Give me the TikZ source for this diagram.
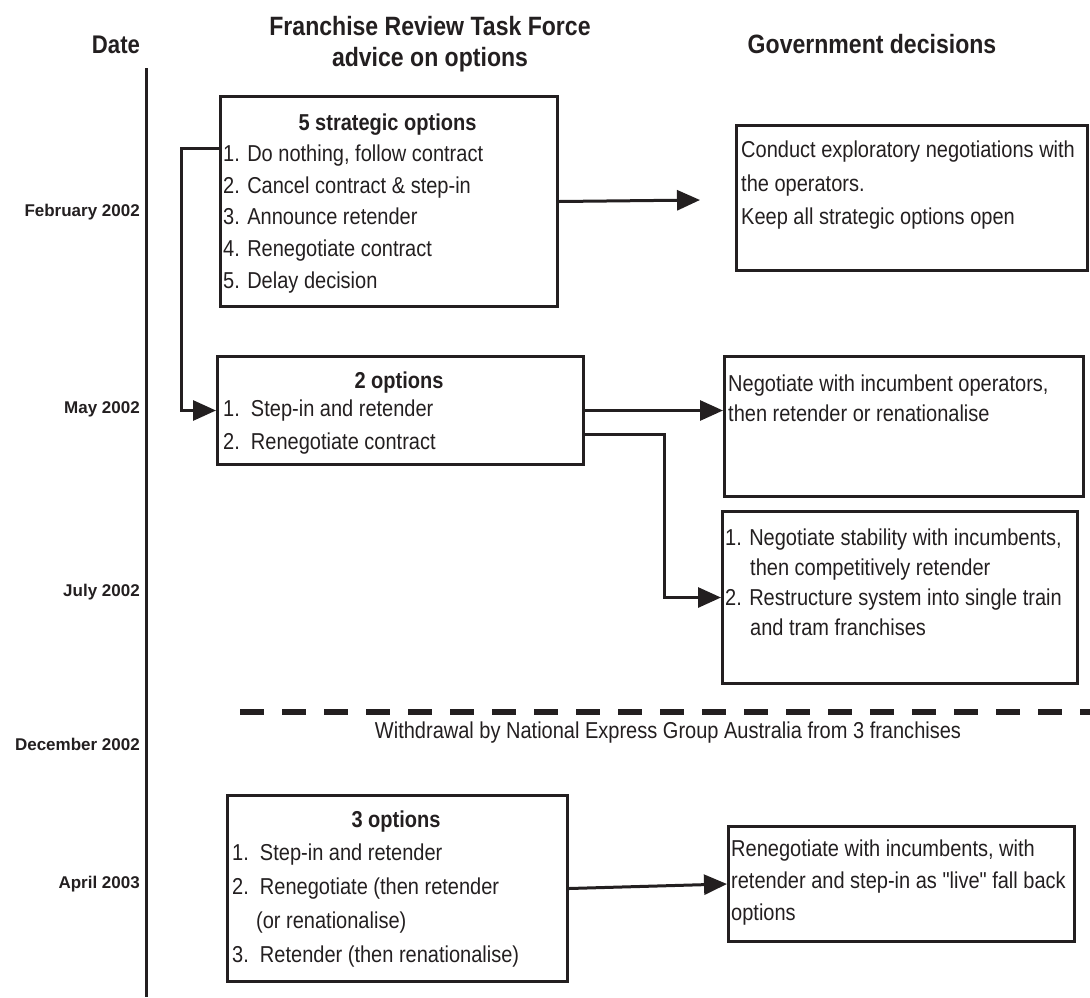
\documentclass[tikz,border=0pt]{standalone}
\usepackage{fontspec}
\setmainfont{Liberation Sans}[FakeStretch=0.87]
\newfontfamily\datefont{Liberation Sans}
\usetikzlibrary{arrows.meta,calc}
\definecolor{ink}{HTML}{231F20}
\tikzset{
  box/.style={draw=ink, line width=3pt, inner sep=0pt, anchor=north west},
  conn/.style={draw=ink, line width=3pt},
  arr/.style={conn, -{Triangle[length=23pt,width=20pt]}},
  dashline/.style={draw=ink, line width=5.5pt, dash pattern=on 24pt off 18pt},
  tx/.style={anchor=base west, inner sep=0pt, text=ink, font=\fontsize{23}{28}\selectfont},
  tt/.style={anchor=base, inner sep=0pt, text=ink, font=\fontsize{23}{28}\selectfont\bfseries},
  hd/.style={anchor=base, inner sep=0pt, text=ink, font=\fontsize{26.5}{32}\selectfont\bfseries},
  dt/.style={anchor=base east, inner sep=0pt, text=ink, font=\datefont\bfseries\fontsize{17}{20}\selectfont}
}
\begin{document}
\begin{tikzpicture}[x=1pt,y=-1pt]
\useasboundingbox (0,0) rectangle (1090,997);

% headers
\node[hd, font=\fontsize{25.5}{30}\selectfont\bfseries] (hdate) at (116,53) {Date};
\node[hd] (hfr1) at (430,35) {Franchise Review Task Force};
\node[hd] (hfr2) at (430,66) {advice on options};
\node[hd] (hgov) at (872,53) {Government decisions};

% axis
\coordinate (ax1) at (146,68);
\coordinate (ax2) at (146,997);
\draw[conn] (ax1) -- (ax2);

% dates
\node[dt] (dfeb) at (140,216) {February 2002};
\node[dt] (dmay) at (140,413) {May 2002};
\node[dt] (djul) at (140,596) {July 2002};
\node[dt] (ddec) at (140,750) {December 2002};
\node[dt] (dapr) at (140,888) {April 2003};

% box A
\node[box, minimum width=337pt, minimum height=210pt] (A) at (219,95) {};
\node[tt] (At) at (387.5,130) {5 strategic options};
\node[tx] (A1) at (223,161) {1. Do nothing, follow contract};
\node[tx] (A2) at (223,193) {2. Cancel contract \& step-in};
\node[tx] (A3) at (223,224) {3. Announce retender};
\node[tx] (A4) at (223,256) {4. Renegotiate contract};
\node[tx] (A5) at (223,288) {5. Delay decision};

% box C
\node[box, minimum width=351pt, minimum height=145pt] (C) at (735,124) {};
\node[tx] (C1) at (741,157) {Conduct exploratory negotiations with};
\node[tx] (C2) at (741,191) {the operators.};
\node[tx] (C3) at (741,224) {Keep all strategic options open};

% box B
\node[box, minimum width=366pt, minimum height=108pt] (B) at (216,355) {};
\node[tt] (Bt) at (399,388) {2 options};
\node[tx] (B1) at (223,416) {1.\ \ Step-in and retender};
\node[tx] (B2) at (223,449) {2.\ \ Renegotiate contract};

% box D
\node[box, minimum width=359pt, minimum height=140pt] (D) at (723,355) {};
\node[tx] (D1) at (728,391) {Negotiate with incumbent operators,};
\node[tx] (D2) at (728,421) {then retender or renationalise};

% box E
\node[box, minimum width=355pt, minimum height=172pt] (E) at (721,510) {};
\node[tx] (E1) at (725,545) {1. Negotiate stability with incumbents,};
\node[tx] (E2) at (750,575) {then competitively retender};
\node[tx] (E3) at (725,605) {2. Restructure system into single train};
\node[tx] (E4) at (750,635) {and tram franchises};

% withdrawal
\coordinate (dl1) at (240,712);
\coordinate (dl2) at (1090,712);
\draw[dashline] (dl1) -- (dl2);
\node[tx, anchor=base] (W) at (668,738) {Withdrawal by National Express Group Australia from 3 franchises};

% box F
\node[box, minimum width=340pt, minimum height=186pt] (F) at (226,794) {};
\node[tt] (Ft) at (396,827) {3 options};
\node[tx] (F1) at (232,860) {1.\ \ Step-in and retender};
\node[tx] (F2) at (232,894) {2.\ \ Renegotiate (then retender};
\node[tx] (F3) at (256,928) {(or renationalise)};
\node[tx] (F4) at (232,962) {3.\ \ Retender (then renationalise)};

% box G
\node[box, minimum width=346pt, minimum height=115pt] (G) at (727,825) {};
\node[tx] (G1) at (731,856) {Renegotiate with incumbents, with};
\node[tx] (G2) at (731,888) {retender and step-in as {\addfontfeature{Ligatures=TeXOff}"live"} fall back};
\node[tx] (G3) at (731,920) {options};

% connectors
\coordinate (kA) at (181,0);
\coordinate (cT) at (700,200);
\coordinate (kE) at (664,0);
\draw[arr] ($(A.north west)+(0,53)$) -| (kA |- B.west) -- (B.west);
\draw[arr] (A.east) -- (cT);
\draw[arr] (B.east) -- (B.east -| D.west);
\draw[arr] ($(B.east)+(0,24)$) -| (kE |- E.west) -- (E.west);
\draw[arr] (F.east) -- (G.west);
\end{tikzpicture}
\end{document}
